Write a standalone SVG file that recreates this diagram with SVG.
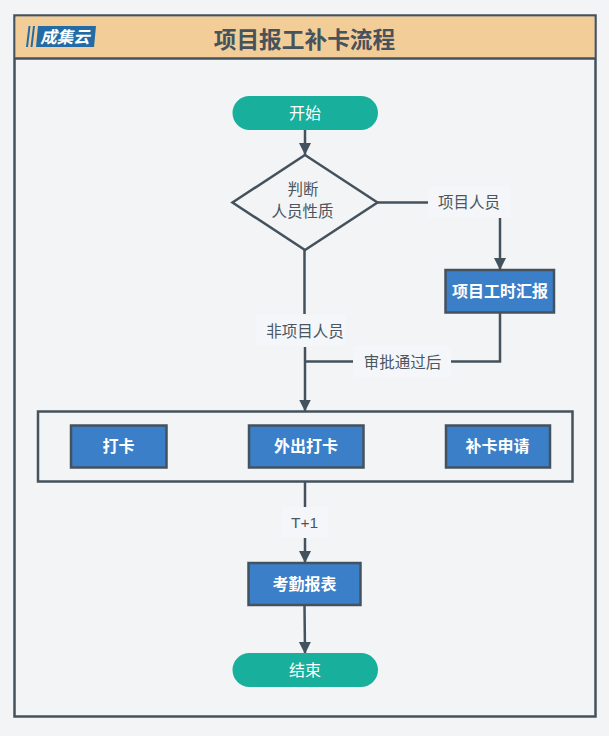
<svg xmlns="http://www.w3.org/2000/svg" width="609" height="736" viewBox="0 0 609 736">
<defs>
<marker id="arrow" markerUnits="userSpaceOnUse" markerWidth="12" markerHeight="13" refX="12" refY="6" orient="auto"><path d="M0 0L12 6L0 12Z" fill="#44525d"/></marker>
</defs>
<style>
text{font-family:"Liberation Sans","Noto Sans CJK SC",sans-serif;text-anchor:middle}
.b rect{fill:#3b7fc8;stroke:#44525d;stroke-width:2.500}
.b text{font-size:16px;font-weight:bold;fill:#fff}
.t rect{fill:#18af9d;stroke:none}
.t text{font-size:16px;fill:#fff}
.c{fill:none;stroke:#44525d;stroke-width:2.500}
.a{marker-end:url(#arrow)}
.l rect{fill:#f5f6fa;stroke:none}
.l text{font-size:15.500px;fill:#4a5660}
</style>
<rect width="609" height="736" fill="#f3f4f6"/>
<g id="frame">
<rect x="14.500" y="15.500" width="581" height="701" fill="#f3f4f6" stroke="#44525d" stroke-width="2.500"/>
<rect x="15.500" y="16.500" width="579" height="42" fill="#f3cd97" stroke="none"/>
<line x1="14.500" y1="58.500" x2="595.500" y2="58.500" stroke="#44525d" stroke-width="2.500"/>
<text x="304.500" y="47.500" font-size="22.700" font-weight="bold" fill="#46525c">项目报工补卡流程</text>
</g>
<g id="logo">
<path d="M26 47L28.500 26H30.500L28 47ZM30.500 47L33 26H35L32.500 47Z" fill="#236ba5"/>
<path d="M38 26H96L94 47H36Z" fill="#236ba5"/>
<text x="65" y="42.500" font-size="16.500" font-weight="bold" font-style="italic" fill="#fff">成集云</text>
</g>
<g id="group-box"><rect x="38" y="411.500" width="534.500" height="70" fill="#f3f4f6" stroke="#44525d" stroke-width="2.500"/></g>
<g id="connectors">
<path class="c a" d="M305 130V155"/>
<path class="c" d="M378 202.500H428"/>
<path class="c a" d="M500 218V270"/>
<path class="c" d="M304.500 250V314"/>
<path class="c a" d="M305 347V411.500"/>
<path class="c" d="M500 313V361.500H451"/>
<path class="c" d="M353 361.500H305"/>
<path class="c" d="M305 482V507"/>
<path class="c a" d="M305 538V563"/>
<path class="c a" d="M304.500 605L305 654"/>
</g>
<g id="start" class="t"><rect x="232.500" y="96" width="145.500" height="34" rx="17"/><text x="305" y="118.500">开始</text></g>
<g id="decision"><path d="M305 155L377.500 202.500L305 250L232.500 202.500Z" fill="#f3f4f6" stroke="#44525d" stroke-width="2.500"/>
<text x="303" y="195" font-size="15.500" fill="#4a5660">判断</text><text x="302.500" y="216.500" font-size="15.500" fill="#4a5660">人员性质</text></g>
<g id="report" class="b"><rect x="445.500" y="270" width="108.500" height="42.500"/><text x="500" y="296.500">项目工时汇报</text></g>
<g id="punch" class="b"><rect x="71" y="425.500" width="95.500" height="42"/><text x="118.500" y="452">打卡</text></g>
<g id="out" class="b"><rect x="249" y="425.500" width="114.500" height="42"/><text x="306" y="452">外出打卡</text></g>
<g id="fix" class="b"><rect x="446" y="425.500" width="104" height="42"/><text x="497.500" y="452">补卡申请</text></g>
<g id="attendance" class="b"><rect x="248.500" y="563" width="112" height="42"/><text x="304.500" y="589.500">考勤报表</text></g>
<g id="end" class="t"><rect x="232.500" y="653" width="145.500" height="34" rx="17"/><text x="305" y="675.500">结束</text></g>
<g id="label-project" class="l"><rect x="428.500" y="187" width="82" height="31"/><text x="469" y="208">项目人员</text></g>
<g id="label-nonproject" class="l"><rect x="256" y="315" width="90" height="31"/><text x="305" y="336.500">非项目人员</text></g>
<g id="label-approved" class="l"><rect x="353" y="346" width="98" height="31"/><text x="402.500" y="367.500">审批通过后</text></g>
<g id="label-t1" class="l"><rect x="282" y="507" width="46" height="31"/><text x="304.500" y="527.500" font-size="17">T+1</text></g>
</svg>
